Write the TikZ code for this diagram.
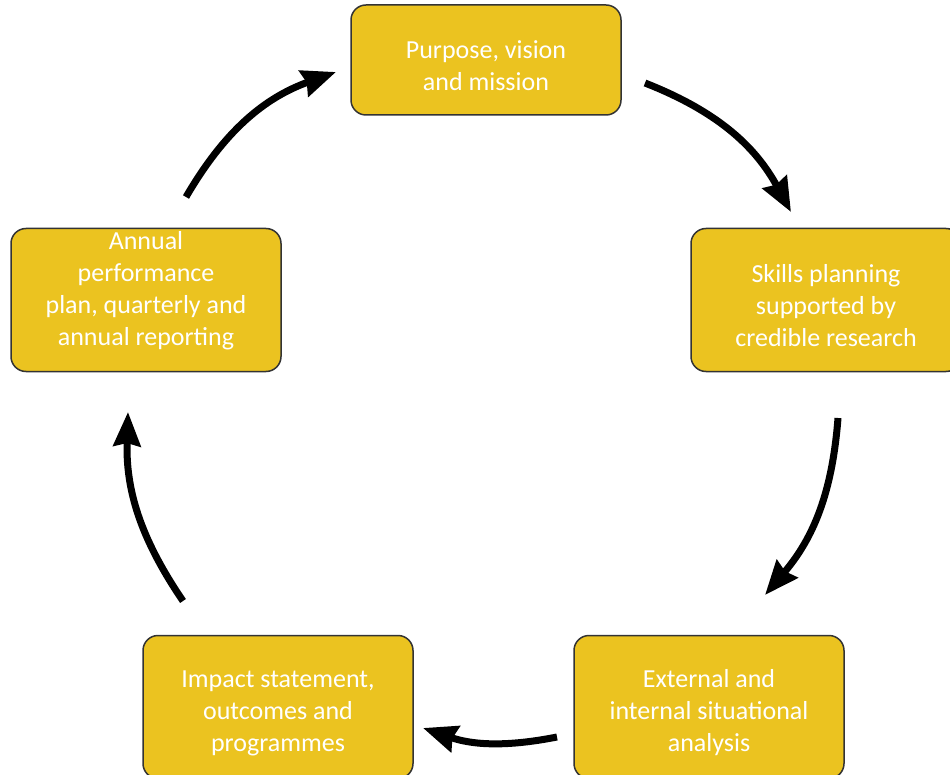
\documentclass[tikz,border=0pt]{standalone}
\usepackage{fontspec}
\setmainfont{Carlito}
\usetikzlibrary{arrows.meta}
\definecolor{gold}{RGB}{235,195,32}

\begin{document}
\begin{tikzpicture}[x=1pt,y=-1pt,
    stage/.style={draw=black!80, line width=1.5pt, fill=gold, rounded corners=15pt,
      minimum width=270pt, minimum height=143pt},
    caption/.style={text=white, align=center, font=\fontsize{26}{32}\selectfont},
    flow/.style={line width=7pt, -{Stealth[length=34pt,width=27pt,inset=3pt]}}]
    \useasboundingbox (0,0) rectangle (950,775);
    \node[stage, minimum height=110pt] (purpose) at (486,60) {};
    \node[stage] (skills) at (826,300) {};
    \node[stage] (analysis) at (709,707) {};
    \node[stage] (impact) at (278,707) {};
    \node[stage] (plan) at (146,300) {};
    \node[caption] at ([yshift=-6pt]purpose.center) {Purpose, vision\\and mission};
    \node[caption] at ([yshift=-6pt]skills.center) {Skills planning\\supported by\\credible research};
    \node[caption] at ([yshift=-6pt]analysis.center) {External and\\internal situational\\analysis};
    \node[caption] at ([yshift=-6pt]impact.center) {Impact statement,\\outcomes and\\programmes};
    \node[caption] at ([yshift=9pt]plan.center) {Annual\\performance\\plan, quarterly and\\annual reporting};
    % arrow ends, clockwise
    \coordinate (a1) at (645,83);  \coordinate (b1) at (791,212);
    \coordinate (a2) at (838,418); \coordinate (b2) at (765,595);
    \coordinate (a3) at (557,737); \coordinate (b3) at (423,728);
    \coordinate (a4) at (183,601); \coordinate (b4) at (128,412);
    \coordinate (a5) at (186,197); \coordinate (b5) at (336,72);
    \foreach \i/\b in {1/20,2/18,3/15,4/18,5/20}
      \draw[flow] (a\i) to[bend left=\b] (b\i);
\end{tikzpicture}
\end{document}
